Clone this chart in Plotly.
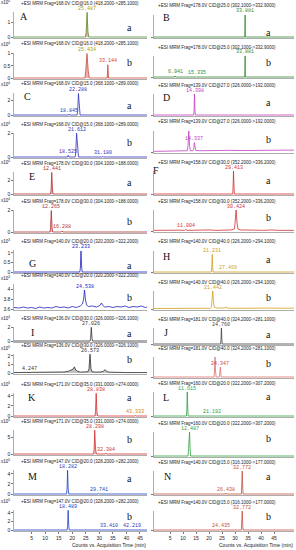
import plotly.graph_objects as go

W, H = 296, 550

# ---------------- DATA (retention time in min, signal in axis units) ----------------
# Left column panels: A, C, E, G, I, K, M
A_a_time = [-1.5, 24.9, 25.15, 25.487, 25.8, 26.1, 47.6]
A_a_sig = [0, 0, 0.35, 1.7, 0.35, 0, 0]
A_a_lbl = [25.487]
A_b_time = [-1.5, 24.7, 25.0, 25.434, 25.9, 26.3, 32.9, 33.144, 33.4, 47.6]
A_b_sig = [0, 0, 0.3, 1.0, 0.3, 0, 0, 0.54, 0, 0]
A_b_lbl = [25.434, 33.144]

C_a_time = [-1.5, 18.6, 18.845, 19.1, 21.8, 22.0, 22.288, 22.6, 22.9, 47.6]
C_a_sig = [0, 0, 0.12, 0, 0, 0.5, 3.0, 0.5, 0, 0]
C_a_lbl = [22.288, 18.845]
C_b_time = [-1.5, 18.3, 18.525, 18.8, 21.1, 21.3, 21.612, 21.95, 22.3, 30.9, 31.18, 31.5, 47.6]
C_b_sig = [0, 0, 0.15, 0, 0, 0.4, 2.0, 0.4, 0, 0, 0.05, 0, 0]
C_b_lbl = [21.612, 18.525, 31.18]

E_a_time = [-1.5, 12.0, 12.2, 12.441, 12.7, 12.9, 47.6]
E_a_sig = [0, 0, 0.6, 3.25, 0.6, 0, 0]
E_a_lbl = [12.441]
E_b_time = [-1.5, 11.8, 12.0, 12.265, 12.55, 12.8, 16.0, 16.288, 16.6, 47.6]
E_b_sig = [0, 0, 0.4, 2.0, 0.4, 0, 0, 0.1, 0, 0]
E_b_lbl = [12.265, 16.288]

G_a_time = [-1.5, 22.8, 23.0, 23.233, 23.5, 23.7, 47.6]
G_a_sig = [0, 0, 0.2, 1.1, 0.2, 0, 0]
G_a_lbl = [23.233]
G_b_time = [-1.5, 0.5, 2, 3.5, 5, 6.5, 8, 9.5, 11, 12.5, 14, 15.5, 17, 18.5, 20, 21.5, 23, 23.8,
            24.2, 24.538, 24.9, 25.3, 26, 27.5, 29, 30.2, 30.8, 31.3, 32, 33.5, 35, 36.5, 38, 39.5,
            41, 42.5, 44, 45.5, 47, 47.6]
G_b_sig = [3.63, 3.62, 3.64, 3.62, 3.63, 3.61, 3.64, 3.62, 3.63, 3.62, 3.65, 3.63, 3.64, 3.62,
           3.65, 3.63, 3.66, 3.70, 3.80, 3.98, 3.78, 3.68, 3.65, 3.66, 3.64, 3.67, 3.72, 3.67, 3.64,
           3.65, 3.63, 3.65, 3.64, 3.66, 3.63, 3.65, 3.64, 3.66, 3.63, 3.64]
G_b_lbl = [24.538]

I_a_time = [-1.5, 26.6, 26.8, 27.026, 27.3, 27.5, 47.6]
I_a_sig = [0, 0, 0.4, 2.0, 0.4, 0, 0]
I_a_lbl = [27.026]
I_b_time = [-1.5, 2, 4.247, 6, 10, 14, 17, 18.5, 19.5, 20.3, 20.8, 21.3, 22, 23, 25.8, 26.2,
            26.573, 26.9, 27.3, 28.5, 30.5, 31.5, 32.1, 32.7, 33.5, 36, 40, 44, 47.6]
I_b_sig = [0.05, 0.05, 0.08, 0.05, 0.06, 0.07, 0.12, 0.2, 0.35, 0.45, 0.72, 0.35, 0.2, 0.1, 0.15,
           0.5, 2.2, 0.5, 0.15, 0.1, 0.12, 0.2, 0.4, 0.2, 0.1, 0.06, 0.05, 0.05, 0.05]
I_b_lbl = [26.573, 4.247]

K_a_time = [-1.5, 28.4, 28.6, 28.838, 29.1, 29.4, 43.1, 43.333, 43.6, 47.6]
K_a_sig = [0, 0, 0.9, 4.5, 0.9, 0, 0, 0.1, 0, 0]
K_a_lbl = [28.838, 43.333]
K_b_time = [-1.5, 27.9, 28.1, 28.298, 28.6, 28.9, 32.1, 32.384, 32.7, 47.6]
K_b_sig = [0, 0, 1.5, 7.3, 1.5, 0, 0, 0.3, 0, 0]
K_b_lbl = [28.298, 32.384]

M_a_time = [-1.5, 17.9, 18.1, 18.282, 18.5, 18.7, 29.5, 29.741, 30.0, 47.6]
M_a_sig = [0, 0, 1.0, 4.7, 1.0, 0, 0, 0.12, 0, 0]
M_a_lbl = [18.282, 29.741]
M_b_time = [-1.5, 18.1, 18.3, 18.489, 18.7, 18.9, 33.2, 33.41, 33.6, 42.0, 42.219, 42.4, 47.6]
M_b_sig = [0, 0, 1.0, 4.6, 1.0, 0, 0, 0.08, 0, 0, 0.05, 0, 0]
M_b_lbl = [18.489, 33.41, 42.219]

# Right column panels: B, D, F, H, J, L, N (normalised signal)
B_a_time = [-1.2, 33.75, 33.881, 34.0, 52.7]
B_a_sig = [0, 0, 1.0, 0, 0]
B_a_lbl = [33.881]
B_b_time = [-1.2, 6.8, 6.941, 7.1, 15.2, 15.335, 15.5, 33.75, 33.881, 34.0, 52.7]
B_b_sig = [0, 0, 0.05, 0, 0, 0.02, 0, 0, 1.0, 0, 0]
B_b_lbl = [33.881, 6.941, 15.335]

D_a_time = [-1.2, 14.1, 14.25, 14.398, 14.55, 14.7, 52.7]
D_a_sig = [0, 0, 0.3, 1.0, 0.3, 0, 0]
D_a_lbl = [14.398]
D_b_time = [-1.2, 2, 5, 8, 10, 11.6, 11.9, 12.2, 12.5, 12.8, 13.8, 14.1, 14.337, 14.6, 14.9, 17,
            20, 24, 28, 32, 36, 40, 44, 48, 52.7]
D_b_sig = [0.03, 0.04, 0.03, 0.05, 0.04, 0.06, 0.3, 1.0, 0.3, 0.06, 0.06, 0.15, 0.45, 0.15, 0.07,
           0.06, 0.07, 0.06, 0.08, 0.07, 0.08, 0.07, 0.09, 0.08, 0.09]
D_b_lbl = [14.337]

F_a_time = [-1.2, 29.1, 29.25, 29.413, 29.6, 29.75, 52.7]
F_a_sig = [0, 0, 0.3, 1.0, 0.3, 0, 0]
F_a_lbl = [29.413]
F_b_time = [-1.2, 2, 5, 8, 10.5, 11.004, 11.5, 14, 17, 20, 23, 26, 28.5, 29.8, 30.1, 30.424,
            30.75, 31.1, 32, 35, 38, 41, 44, 47, 50, 52.7]
F_b_sig = [0.03, 0.04, 0.02, 0.04, 0.03, 0.08, 0.03, 0.04, 0.03, 0.05, 0.03, 0.04, 0.05, 0.1,
           0.4, 1.0, 0.4, 0.1, 0.05, 0.03, 0.04, 0.03, 0.05, 0.03, 0.04, 0.03]
F_b_lbl = [30.424, 11.004]

H_a_time = [-1.2, 20.9, 21.05, 21.231, 21.4, 21.55, 27.3, 27.469, 27.6, 52.7]
H_a_sig = [0, 0, 0.3, 1.0, 0.3, 0, 0, 0.02, 0, 0]
H_a_lbl = [21.231, 27.469]
H_b_time = [-1.2, 3, 7, 11, 15, 18, 20.5, 20.9, 21.15, 21.442, 21.7, 22.0, 23, 25.5, 26.1, 26.5,
            26.9, 28, 32, 36, 40, 42.5, 43.2, 44, 48, 52.7]
H_b_sig = [0.03, 0.04, 0.03, 0.04, 0.03, 0.04, 0.04, 0.1, 0.4, 1.0, 0.4, 0.1, 0.05, 0.04, 0.06,
           0.12, 0.05, 0.04, 0.05, 0.04, 0.05, 0.05, 0.08, 0.05, 0.04, 0.05]
H_b_lbl = [21.442]

J_a_time = [-1.2, 24.45, 24.6, 24.76, 24.92, 25.07, 52.7]
J_a_sig = [0, 0, 0.3, 1.0, 0.3, 0, 0]
J_a_lbl = [24.76]
J_b_time = [-1.2, 21.9, 22.1, 22.3, 22.5, 22.7, 23.95, 24.15, 24.347, 24.55, 24.75, 52.7]
J_b_sig = [0, 0, 0.3, 1.0, 0.3, 0, 0, 0.15, 0.5, 0.15, 0, 0]
J_b_lbl = [24.347]

L_a_time = [-1.2, 11.3, 11.45, 11.615, 11.8, 11.95, 21.0, 21.192, 21.4, 52.7]
L_a_sig = [0, 0, 0.3, 1.0, 0.3, 0, 0, 0.02, 0, 0]
L_a_lbl = [11.615, 21.192]
L_b_time = [-1.2, 11.9, 12.1, 12.25, 12.35, 12.487, 12.7, 12.9, 52.7]
L_b_sig = [0, 0, 0.3, 0.9, 0.6, 1.0, 0.3, 0, 0]
L_b_lbl = [12.487]

N_a_time = [-1.2, 26.25, 26.438, 26.6, 32.45, 32.6, 32.772, 32.95, 33.1, 52.7]
N_a_sig = [0, 0, 0.04, 0, 0, 0.3, 1.0, 0.3, 0, 0]
N_a_lbl = [32.772, 26.438]
N_b_time = [-1.2, 24.25, 24.435, 24.6, 32.45, 32.6, 32.772, 32.95, 33.1, 52.7]
N_b_sig = [0, 0, 0.04, 0, 0, 0.3, 1.0, 0.3, 0, 0]
N_b_lbl = [32.772, 24.435]

TITLES = {
    "A": "+ESI MRM Frag=168.0V CID@16.0 (418.2000->285.1000)",
    "B": "+ESI MRM Frag=178.0V CID@25.0 (302.1000->332.9000)",
    "C": "+ESI MRM Frag=168.0V CID@15.0 (368.1000->289.0000)",
    "D": "+ESI MRM Frag=139.0V CID@27.0 (326.0000->192.0000)",
    "E": "+ESI MRM Frag=178.0V CID@30.0 (304.1000->188.0000)",
    "F": "+ESI MRM Frag=158.0V CID@30.0 (352.2000->336.2000)",
    "G": "+ESI MRM Frag=140.0V CID@20.0 (320.2000->322.2000)",
    "H": "+ESI MRM Frag=140.0V CID@40.0 (326.2000->294.1000)",
    "I": "+ESI MRM Frag=136.0V CID@30.0 (326.0000->326.1000)",
    "J": "+ESI MRM Frag=181.0V CID@40.0 (324.2000->281.1000)",
    "K": "+ESI MRM Frag=171.0V CID@35.0 (331.0000->274.0000)",
    "L": "+ESI MRM Frag=160.0V CID@20.0 (322.2000->307.2000)",
    "M": "+ESI MRM Frag=147.0V CID@20.0 (328.2000->282.2000)",
    "N": "+ESI MRM Frag=140.0V CID@15.0 (316.1000->177.0000)",
}
X_TICKS = [5, 10, 15, 20, 25, 30, 35, 40, 45]
X_TITLE = "Counts vs. Acquisition Time (min)"

# ---------------- LAYOUT / STYLE ----------------
# (panel, sub, col, title_y, sub_label_y, base_y, time, sig, labels, color, label colors, fill,
#  ymin, ymax, yticks, exponent)
subplots = [
    ("A", "a", 0, 3, 28, 37, A_a_time, A_a_sig, A_a_lbl, "#4f8f2f", ["#a89a18"], "rgba(225,110,110,0.55)", 0, 1.72, [0, 1], 4),
    ("A", "b", 0, 44, 63, 78, A_b_time, A_b_sig, A_b_lbl, "#c84b3b", ["#a89a18", "#d04040"], "rgba(225,110,110,0.55)", 0, 1.02, [0, 0.5, 1], 4),
    ("C", "a", 0, 84, 105, 115, C_a_time, C_a_sig, C_a_lbl, "#3030c0", ["#3030c0"], None, 0, 3.07, [0, 2], 4),
    ("C", "b", 0, 124, 142, 157, C_b_time, C_b_sig, C_b_lbl, "#3030c0", ["#3030c0"], None, 0, 2.02, [0, 2], 4),
    ("E", "a", 0, 163, 182, 194, E_a_time, E_a_sig, E_a_lbl, "#b03030", ["#b03030"], "rgba(225,110,110,0.45)", 0, 3.3, [0, 2], 4),
    ("E", "b", 0, 201, 222, 232, E_b_time, E_b_sig, E_b_lbl, "#b03030", ["#b03030"], "rgba(225,110,110,0.45)", 0, 2.05, [0, 2], 4),
    ("G", "a", 0, 241, 265, 272, G_a_time, G_a_sig, G_a_lbl, "#2020c0", ["#2020c0"], None, 0, 1.15, [0, 0.5, 1], 3),
    ("G", "b", 0, 275, 297, 309, G_b_time, G_b_sig, G_b_lbl, "#2020c0", ["#2020c0"], None, 3.6, 4.1, [3.6, 3.8, 4], 3),
    ("I", "a", 0, 318, 333, 341, I_a_time, I_a_sig, I_a_lbl, "#303030", ["#303030"], None, 0, 2.05, [0, 2], 4),
    ("I", "b", 0, 345, 359, 373, I_b_time, I_b_sig, I_b_lbl, "#303030", ["#303030"], "rgba(80,80,80,0.35)", 0, 2.22, [0, 1, 2], 5),
    ("K", "a", 0, 384, 397, 416, K_a_time, K_a_sig, K_a_lbl, "#d03030", ["#d03030", "#d08020"], "rgba(240,140,150,0.5)", 0, 4.55, [0, 2, 4], 5),
    ("K", "b", 0, 421, 439, 454, K_b_time, K_b_sig, K_b_lbl, "#d03030", ["#d03030"], "rgba(240,140,150,0.5)", 0, 7.35, [0, 5], 5),
    ("M", "a", 0, 461, 478, 494, M_a_time, M_a_sig, M_a_lbl, "#2040c0", ["#2040c0"], None, 0, 4.76, [0, 2, 4], 5),
    ("M", "b", 0, 501, 516, 530, M_b_time, M_b_sig, M_b_lbl, "#2040c0", ["#2040c0"], None, 0, 4.67, [0, 2, 4], 5),
    ("B", "a", 1, 6, 32, 37, B_a_time, B_a_sig, B_a_lbl, "#2e8b2e", ["#2e8b2e"], None, 0, 1.0, None, None),
    ("B", "b", 1, 47, 63, 77, B_b_time, B_b_sig, B_b_lbl, "#2e8b2e", ["#2e8b2e"], None, 0, 1.0, None, None),
    ("D", "a", 1, 85, 103, 115, D_a_time, D_a_sig, D_a_lbl, "#c040c0", ["#c040c0"], None, 0, 1.0, None, None),
    ("D", "b", 1, 122, 140, 152, D_b_time, D_b_sig, D_b_lbl, "#c040c0", ["#c040c0"], None, 0, 1.0, None, None),
    ("F", "a", 1, 162, 180, 194, F_a_time, F_a_sig, F_a_lbl, "#d03030", ["#d03030"], None, 0, 1.0, None, None),
    ("F", "b", 1, 201, 217, 231, F_b_time, F_b_sig, F_b_lbl, "#d03030", ["#d03030"], None, 0, 1.0, None, None),
    ("H", "a", 1, 242, 260, 272, H_a_time, H_a_sig, H_a_lbl, "#d0a020", ["#d0a020"], None, 0, 1.2, None, None),
    ("H", "b", 1, 282, 297, 309, H_b_time, H_b_sig, H_b_lbl, "#d0a020", ["#d0a020"], None, 0, 1.0, None, None),
    ("J", "a", 1, 319, 334, 344, J_a_time, J_a_sig, J_a_lbl, "#404040", ["#404040"], None, 0, 1.0, None, None),
    ("J", "b", 1, 348, 363, 377, J_b_time, J_b_sig, J_b_lbl, "#e07070", ["#d04040"], None, 0, 1.0, None, None),
    ("L", "a", 1, 383, 396, 416, L_a_time, L_a_sig, L_a_lbl, "#30a040", ["#30a040"], None, 0, 1.0, None, None),
    ("L", "b", 1, 423, 438, 456, L_b_time, L_b_sig, L_b_lbl, "#30a040", ["#30a040"], None, 0, 1.0, None, None),
    ("N", "a", 1, 462, 476, 494, N_a_time, N_a_sig, N_a_lbl, "#c05040", ["#c05040"], None, 0, 1.0, None, None),
    ("N", "b", 1, 502, 516, 530, N_b_time, N_b_sig, N_b_lbl, "#c05040", ["#c05040"], None, 0, 1.0, None, None),
]

LETTER_POS = {"A": (24, 17), "C": (27, 96), "E": (32, 177), "G": (32, 263), "I": (32, 332),
              "K": (32, 397), "M": (32, 476), "B": (166, 18), "D": (166, 97), "F": (156, 170),
              "H": (166, 256), "J": (166, 332), "L": (166, 397), "N": (167, 476)}
# header rows that sit tight under the previous axis: push the exponent label down a bit
EXP_DY = {("G", "b"): 3.5, ("I", "b"): 3.5}

COL_X = [(14, 147), (154, 294)]
COL_RANGE = [(-1.5, 47.6), (-1.2, 52.7)]
MONO = "Liberation Mono"
SANS = "Liberation Sans"
TITLE_GAP = 9  # px between header line and plot top


def px(p):
    return p / W


def py(p):
    return 1 - p / H


fig = go.Figure()
ann = []
layout = {}

for i, s in enumerate(subplots, start=1):
    (panel, sub, col, ty, sub_y, base, t, y, lbls, color, lcols, fill,
     ymin, ymax, ticks, exp) = s
    top = ty + TITLE_GAP
    xa, ya = f"x{i}", f"y{i}"
    fig.add_trace(go.Scatter(
        x=t, y=y, mode="lines", xaxis=xa, yaxis=ya,
        line=dict(color=color, width=0.8),
        fill="tozeroy" if fill else None, fillcolor=fill,
        hoverinfo="skip", showlegend=False))
    span = ymax - ymin
    lower = ymin - span / (base - top)
    bottom_row = (sub == "b" and panel in ("M", "N"))
    layout[f"xaxis{i}"] = dict(
        domain=[px(COL_X[col][0]), px(COL_X[col][1])], range=list(COL_RANGE[col]),
        anchor=ya, automargin=False, showgrid=False, zeroline=False, showline=True,
        linecolor="#777", linewidth=0.6, ticks="outside" if bottom_row else "", ticklen=2,
        tickcolor="#777", tickvals=X_TICKS, showticklabels=bottom_row,
        tickfont=dict(size=5, family=SANS, color="#222"))
    layout[f"yaxis{i}"] = dict(
        domain=[py(base + 1), py(top)], range=[lower, ymax], anchor=xa, automargin=False,
        showgrid=False, zeroline=False, showline=True, linecolor="#777", linewidth=0.6,
        ticks="outside", ticklen=2, tickcolor="#777",
        tickvals=ticks if ticks else [0], showticklabels=bool(ticks),
        tickfont=dict(size=5, family=SANS, color="#222"))
    # chromatogram header
    ann.append(dict(text=TITLES[panel], x=px(20 if col == 0 else 157),
                    y=py(ty), xref="paper", yref="paper", xanchor="left", yanchor="middle",
                    borderpad=0, showarrow=False,
                    font=dict(size=4.5, family=SANS, color="#222")))
    if exp:
        ann.append(dict(text=f"x10<sup>{exp}</sup>", x=px(0),
                        y=py(ty - 0.5 + EXP_DY.get((panel, sub), 0)),
                        xref="paper", yref="paper", xanchor="left", yanchor="middle",
                        borderpad=0, showarrow=False,
                        font=dict(size=4.5, family=SANS, color="#222")))
    # peak labels
    for k, lt in enumerate(lbls):
        ly = y[t.index(lt)]
        ann.append(dict(text=f"{lt:.3f}", x=lt, y=ly, xref=xa, yref=ya,
                        xanchor="center", yanchor="bottom", yshift=-0.5, borderpad=0,
                        showarrow=False,
                        font=dict(size=5, family=MONO, color=lcols[min(k, len(lcols) - 1)])))
    # sub-label a / b
    ann.append(dict(text=sub, x=px(129 if col == 0 else 268), y=py(sub_y),
                    xref="paper", yref="paper", xanchor="center", yanchor="middle",
                    borderpad=0, showarrow=False,
                    font=dict(size=10, family="Liberation Serif", color="#111")))
    if sub == "a":
        lx, lyy = LETTER_POS[panel]
        ann.append(dict(text=panel, x=px(lx), y=py(lyy), xref="paper", yref="paper",
                        xanchor="center", yanchor="middle", borderpad=0, showarrow=False,
                        font=dict(size=10, family="Liberation Serif", color="#111")))

for col in range(2):
    ann.append(dict(text=X_TITLE, x=px(COL_X[col][1]), y=py(544.5), xref="paper", yref="paper",
                    xanchor="right", yanchor="middle", borderpad=0, showarrow=False,
                    font=dict(size=5, family=SANS, color="#222")))

fig.update_layout(width=W, height=H, margin=dict(l=0, r=0, t=0, b=0, autoexpand=False),
                  paper_bgcolor="white", plot_bgcolor="white", showlegend=False,
                  hovermode=False, annotations=ann, **layout)

# remove the browser's default 8px page margin so the 296x550 figure fills the window exactly
fig.write_html("out.html", config={"displayModeBar": False, "staticPlot": True},
               post_script="document.body.style.margin='0';document.body.style.overflow='hidden';")
